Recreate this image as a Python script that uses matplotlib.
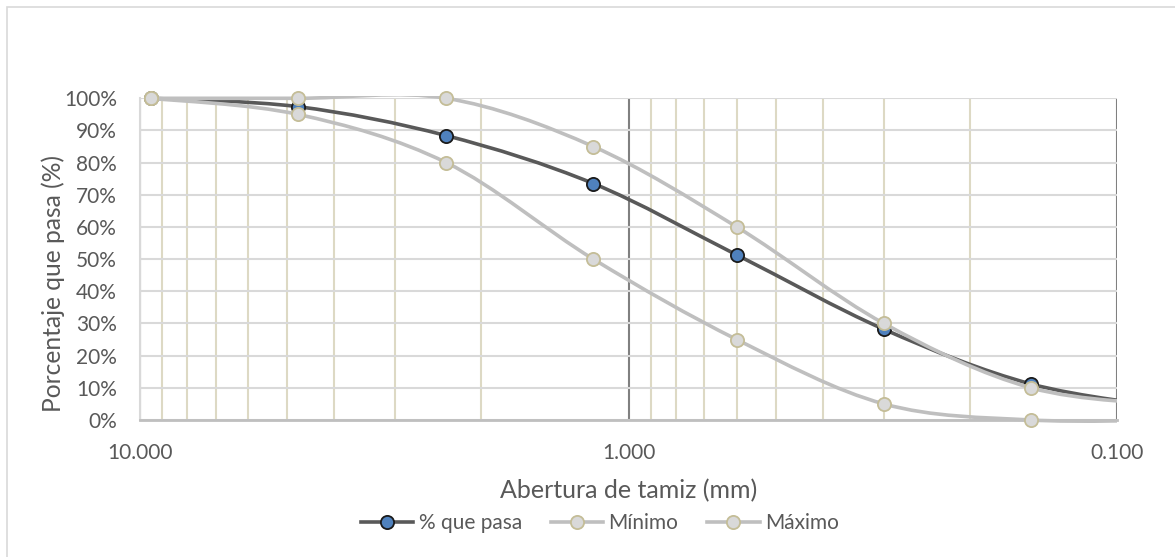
import numpy as np
import matplotlib
matplotlib.use("Agg")
import matplotlib.pyplot as plt
from matplotlib.path import Path
from matplotlib.patches import PathPatch, Rectangle
from matplotlib.lines import Line2D
from matplotlib.ticker import FixedLocator, FuncFormatter

plt.rcParams['font.family'] = ['Lato', 'DejaVu Sans']

# sieve openings (mm) and percent passing; the last sieve lies past the 0.1 axis limit
sizes = [9.5, 4.75, 2.36, 1.18, 0.6, 0.3, 0.15, 0.075]
pasa = [100, 97.4, 88.4, 73.5, 51.3, 28.2, 11.2, 3.5]
minimo = [100, 95, 80, 50, 25, 5, 0, 0]
maximo = [100, 100, 100, 85, 60, 30, 10, 4.5]
names = ['% que pasa', 'Mínimo', 'Máximo']

txt = '#595959'


def smooth_path(xs, ys):
    # excel-like smoothed line: cubic bezier segments built in log-x space
    lx = np.log10(xs)
    ys = np.asarray(ys, float)
    n = len(xs)
    verts = [(xs[0], ys[0])]
    codes = [Path.MOVETO]
    for i in range(n - 1):
        a = max(i - 1, 0)
        b = min(i + 2, n - 1)
        c1 = (lx[i] + (lx[i + 1] - lx[a]) / 6, ys[i] + (ys[i + 1] - ys[a]) / 6)
        c2 = (lx[i + 1] - (lx[b] - lx[i]) / 6, ys[i + 1] - (ys[b] - ys[i]) / 6)
        verts += [(10 ** c1[0], c1[1]), (10 ** c2[0], c2[1]), (xs[i + 1], ys[i + 1])]
        codes += [Path.CURVE4] * 3
    return Path(verts, codes)


fig = plt.figure(figsize=(11.75, 5.57), dpi=100)
ax = fig.add_axes([140 / 1175, 1 - 420 / 557, 977 / 1175, 321.7 / 557])

ax.set_xscale('log')
ax.set_xlim(10, 0.1)
ax.set_ylim(0, 100)

# gridlines
ax.xaxis.set_major_locator(FixedLocator([10, 1, 0.1]))
ax.xaxis.set_minor_locator(FixedLocator([k * d for d in (1, 0.1) for k in range(2, 10)]))
ax.set_yticks(np.arange(0, 101, 10))
ax.grid(True, which='minor', axis='x', color='#DDD9C4', lw=1.5, zorder=0)
ax.grid(True, which='major', axis='x', color='#808080', lw=1.5, zorder=0.5)
ax.grid(True, which='major', axis='y', color='#D9D9D9', lw=1.5, zorder=0.4)
ax.set_axisbelow(True)

ax.xaxis.set_major_formatter(FuncFormatter(lambda v, p: f'{v:.3f}'))
ax.xaxis.set_minor_formatter(FuncFormatter(lambda v, p: ''))
ax.yaxis.set_major_formatter(FuncFormatter(lambda v, p: f'{v:.0f}%'))
ax.tick_params(which='both', length=0)
ax.tick_params(axis='x', pad=16.5, labelsize=15, labelcolor=txt)
ax.tick_params(axis='y', pad=16.5, labelsize=15, labelcolor=txt)

for s in ['top', 'right']:
    ax.spines[s].set_visible(False)
ax.spines['left'].set_color('#D9D9D9')
ax.spines['left'].set_linewidth(1.5)
ax.spines['bottom'].set_color('#BFBFBF')
ax.spines['bottom'].set_linewidth(2)

# clip the smoothed lines to the plot area (a hair of room so lines on 0/100 stay whole)
clip = Rectangle((0, -0.01), 1, 1.016, transform=ax.transAxes, visible=False)
ax.add_patch(clip)

styles = [
    dict(lc='#595959', mfc='#4F81BD', mec='#1A1A1A'),
    dict(lc='#BFBFBF', mfc='#D9D9D9', mec='#C4BD97'),
    dict(lc='#BFBFBF', mfc='#D9D9D9', mec='#C4BD97'),
]
inside = np.array(sizes) >= 0.1
handles = []
for k, (vals, st) in enumerate(zip([pasa, minimo, maximo], styles)):
    z = 3 + k
    patch = PathPatch(smooth_path(sizes, vals), fill=False, edgecolor=st['lc'],
                      lw=2.6, capstyle='round', zorder=z)
    ax.add_patch(patch)
    patch.set_clip_path(clip)
    ax.plot(np.array(sizes)[inside], np.array(vals)[inside], ls='none', marker='o',
            ms=9.5, mfc=st['mfc'], mec=st['mec'], mew=1.3, zorder=z + 0.5,
            clip_on=False)
    handles.append(Line2D([], [], color=st['lc'], lw=2.6, marker='o', ms=9.5,
                          mfc=st['mfc'], mec=st['mec'], mew=1.3))

ax.set_xlabel('Abertura de tamiz (mm)', fontsize=18, color=txt, va='center')
ax.xaxis.set_label_coords(0.5, -71 / 321.7)
ax.set_ylabel('Porcentaje que pasa (%)', fontsize=17.7, color=txt, va='center')
ax.yaxis.set_label_coords(-87 / 977, (420 - 283) / 321.7)

fig.legend(handles, names, loc='center', bbox_to_anchor=(600 / 1175, 1 - 523 / 557),
           ncol=3, frameon=False, fontsize=15, labelcolor=txt, handlelength=2.5,
           handletextpad=0.25, columnspacing=1.4)

# chart area border
fig.add_artist(Rectangle((7 / 1175, -0.05), 1.2, 1 - 7 / 557 + 0.05,
                         transform=fig.transFigure, fill=False,
                         edgecolor='#D9D9D9', lw=1.2))

fig.savefig('out.png', dpi=100)
